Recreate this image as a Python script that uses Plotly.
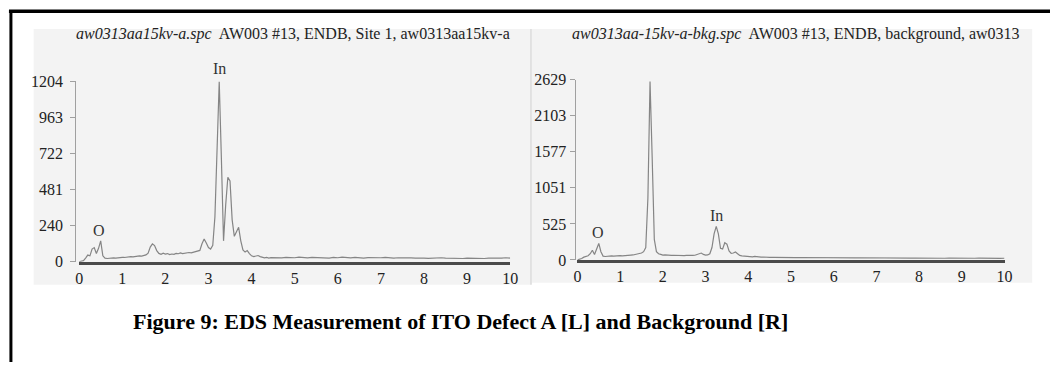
import numpy as np
import plotly.graph_objects as go

# ---------------- data ----------------
energy_fine = [round(i * 0.05, 2) for i in range(91)]          # 0.00 .. 4.50 keV
energy_coarse = [round(4.6 + i * 0.1, 1) for i in range(55)]   # 4.6 .. 10.0 keV
energy = energy_fine + energy_coarse

defect_counts_low = [
    0, 2, 8, 25, 45, 40, 85, 95, 55, 90,
    140, 40, 24, 22, 25, 23, 26, 25, 28, 27,
    30, 29, 32, 31, 34, 33, 36, 38, 40, 38,
    44, 46, 58, 98, 120, 108, 75, 56, 50, 58,
    52, 55, 48, 52, 50, 56, 54, 60, 55, 58,
    57, 62, 60, 64, 66, 70, 76, 120, 152, 125,
    95, 85, 110, 300, 820, 1204, 690, 140, 380, 565,
    540, 280, 170, 200, 230, 140, 80, 65, 75, 55,
    40, 35, 38, 42, 35, 30, 27, 29, 25, 28, 27,
]
defect_counts_high = [
    29, 26, 30, 28, 27, 31, 28, 26, 29, 27,
    30, 28, 25, 29, 27, 31, 28, 26, 30, 27,
    25, 28, 26, 29, 27, 30, 26, 24, 27, 25,
    28, 26, 24, 27, 25, 23, 26, 24, 27, 25,
    23, 26, 24, 22, 25, 23, 26, 24, 22, 25,
    23, 26, 24, 27, 25,
]
defect_counts = defect_counts_low + defect_counts_high

bkg_counts_low = [
    0, 5, 20, 40, 55, 60, 90, 140, 80, 150,
    240, 120, 55, 50, 55, 52, 58, 55, 60, 58,
    62, 60, 65, 62, 68, 70, 72, 78, 80, 90,
    100, 120, 180, 900, 2600, 1500, 300, 120, 90, 80,
    70, 72, 68, 70, 66, 68, 65, 67, 64, 66,
    63, 65, 62, 64, 66, 68, 75, 85, 100, 80,
    70, 72, 90, 180, 380, 490, 380, 170, 160, 250,
    230, 130, 95, 100, 115, 90, 65, 60, 55, 52,
    50, 48, 45, 50, 44, 42, 40, 42, 38, 40, 37,
]
bkg_counts_high = [
    38, 35, 37, 34, 36, 33, 35, 34, 32, 35,
    33, 31, 34, 32, 30, 33, 31, 30, 32, 29,
    31, 30, 28, 31, 29, 27, 30, 28, 29, 27,
    26, 29, 27, 28, 26, 25, 28, 26, 27, 25,
    24, 27, 25, 26, 24, 23, 26, 24, 25, 23,
    24, 22, 25, 23, 24,
]
bkg_counts = bkg_counts_low + bkg_counts_high

x_ticks = list(range(11))
defect_yticks = [0, 240, 481, 722, 963, 1204]
bkg_yticks = [0, 525, 1051, 1577, 2103, 2629]

left_title_file = "aw0313aa15kv-a.spc"
left_title_desc = "AW003 #13, ENDB, Site 1, aw0313aa15kv-a"
right_title_file = "aw0313aa-15kv-a-bkg.spc"
right_title_desc = "AW003 #13, ENDB, background, aw0313"
caption = "Figure 9: EDS Measurement of ITO Defect A [L] and Background [R]"

# ---------------- figure ----------------
W, H = 1058, 371
def px(x):
    return x / W
def py(y):
    return 1 - y / H

SERIF = "Liberation Serif, Times New Roman, serif"
LINE_COL = "#858585"

fig = go.Figure()
fig.add_trace(go.Scatter(x=energy, y=defect_counts, mode="lines",
                         line=dict(color=LINE_COL, width=1.2),
                         xaxis="x", yaxis="y", showlegend=False, hoverinfo="skip"))
fig.add_trace(go.Scatter(x=energy, y=bkg_counts, mode="lines",
                         line=dict(color=LINE_COL, width=1.2),
                         xaxis="x2", yaxis="y2", showlegend=False, hoverinfo="skip"))

xaxis_common = dict(range=[0, 10], tickvals=x_ticks, ticktext=[str(t) for t in x_ticks],
                    showgrid=False, zeroline=False, showline=True, linecolor="#4a4a4a",
                    linewidth=3, ticks="", tickfont=dict(family=SERIF, size=16, color="#222"),
                    fixedrange=True)
yaxis_common = dict(showgrid=False, zeroline=False, showline=True, linecolor="#a0a0a0",
                    linewidth=1, ticks="outside", ticklen=5, tickcolor="#a0a0a0",
                    tickfont=dict(family=SERIF, size=16, color="#222"), fixedrange=True,
                    anchor="free")

fig.update_layout(
    width=W, height=H,
    margin=dict(l=0, r=0, t=0, b=0),
    paper_bgcolor="white", plot_bgcolor="rgba(0,0,0,0)",
    xaxis=dict(domain=[px(76), px(512)], anchor="y", **xaxis_common),
    yaxis=dict(domain=[py(266), py(77)], range=[0, 1204], tickvals=defect_yticks,
               position=px(72), ticklabelstandoff=4, **yaxis_common),
    xaxis2=dict(domain=[px(580), px(1012)], anchor="y2", **xaxis_common),
    yaxis2=dict(domain=[py(264), py(75)], range=[0, 2629], tickvals=bkg_yticks,
                position=px(578), ticklabelstandoff=1, **yaxis_common),
)

shapes = [
    # light grey scanned panels
    dict(type="rect", xref="paper", yref="paper", x0=px(30), x1=px(534), y0=py(290), y1=py(22),
         fillcolor="#f3f3f3", line=dict(width=0), layer="below"),
    dict(type="rect", xref="paper", yref="paper", x0=px(534), x1=px(1040), y0=py(288), y1=py(22),
         fillcolor="#f3f3f3", line=dict(width=0), layer="below"),
    dict(type="line", xref="paper", yref="paper", x0=px(533), x1=px(533), y0=py(290), y1=py(22),
         line=dict(color="#d2d2d2", width=1), layer="below"),
    # outer frame (top and left)
    dict(type="line", xref="paper", yref="paper", x0=px(5), x1=1, y0=py(3.5), y1=py(3.5),
         line=dict(color="black", width=3.5)),
    dict(type="line", xref="paper", yref="paper", x0=px(7), x1=px(7), y0=0, y1=py(2),
         line=dict(color="black", width=3)),
]
fig.update_layout(shapes=shapes)

ann = [
    dict(xref="paper", yref="paper", x=px(71), y=py(27), xanchor="left", yanchor="middle",
         text=f"<i>{left_title_file}</i>  {left_title_desc}", showarrow=False,
         font=dict(family=SERIF, size=16, color="#222")),
    dict(xref="paper", yref="paper", x=px(572), y=py(27), xanchor="left", yanchor="middle",
         text=f"<i>{right_title_file}</i>  {right_title_desc}", showarrow=False,
         font=dict(family=SERIF, size=16, color="#222")),
    dict(xref="x", yref="y", x=3.25, y=1204, yanchor="bottom", yshift=2, text="In",
         showarrow=False, font=dict(family=SERIF, size=16, color="#333")),
    dict(xref="x", yref="y", x=0.47, y=140, yanchor="bottom", yshift=0, text="O",
         showarrow=False, font=dict(family=SERIF, size=16, color="#333")),
    dict(xref="x2", yref="y2", x=0.48, y=240, yanchor="bottom", yshift=0, text="O",
         showarrow=False, font=dict(family=SERIF, size=16, color="#333")),
    dict(xref="x2", yref="y2", x=3.26, y=490, yanchor="bottom", yshift=0, text="In",
         showarrow=False, font=dict(family=SERIF, size=16, color="#333")),
    dict(xref="paper", yref="paper", x=px(462), y=py(329), xanchor="center", yanchor="middle",
         text=f"<b>{caption}</b>", showarrow=False,
         font=dict(family=SERIF, size=22, color="black")),
]
fig.update_layout(annotations=ann)

fig.write_html("out.html", config={"displayModeBar": False},
               post_script="document.body.style.margin='0';")
